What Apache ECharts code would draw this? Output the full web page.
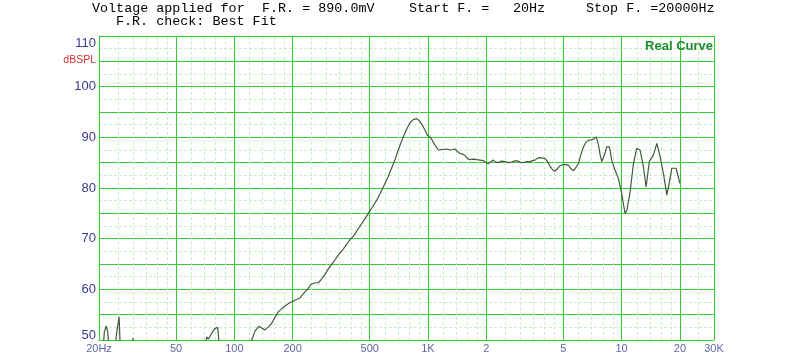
<!DOCTYPE html>
<html>
<head>
<meta charset="utf-8">
<script src="https://cdn.jsdelivr.net/npm/echarts@6/dist/echarts.min.js"></script>
<style>
html,body{margin:0;padding:0;background:#fff;}
#chart{width:800px;height:359px;}
</style>
</head>
<body>
<div id="chart"></div>
<script>
// Frequency response data (Hz, dBSPL)
var freqs = [20, 20.8, 21.3, 21.8, 22.2, 22.7, 23.9, 24.6, 25.4, 25.9, 29.6, 30.0, 30.4,
  70, 72, 73.5, 76, 79, 82, 85, 118, 123, 128, 134, 139, 144, 150, 156, 162, 169, 176, 183, 192,
  202, 210, 218, 228, 241, 248, 256, 264, 272, 282, 294, 308, 325, 345, 366, 380, 396, 404, 416,
  437, 465, 492, 518, 544, 566, 588, 606, 624, 650, 676, 697, 718, 740, 762, 785, 808, 840, 875,
  900, 929, 960, 993, 1025, 1045, 1085, 1131, 1165, 1200, 1250, 1300, 1340, 1380, 1420, 1464,
  1510, 1554, 1600, 1649, 1720, 1786, 1860, 1932, 2000, 2050, 2110, 2175, 2240, 2308, 2400, 2500,
  2600, 2710, 2790, 2875, 2990, 3110, 3240, 3370, 3470, 3575, 3680, 3794, 3910, 4025, 4150, 4270,
  4400, 4530, 4660, 4810, 4950, 5105, 5310, 5450, 5640, 5800, 5980, 6150, 6350, 6530, 6735, 6950,
  7150, 7300, 7380, 7480, 7590, 7750, 7900, 8050, 8200, 8380, 8650, 8890, 9250, 9620, 10020,
  10250, 10420, 10640, 11070, 11510, 11970, 12450, 12960, 13380, 13900, 14580, 15200, 15800,
  16440, 17120, 17800, 18160, 19100, 20000];
var spl = [40, 46, 51.5, 52.8, 51.5, 46, 46, 51, 54.6, 46, 48, 50.4, 48,
  46, 50.6, 50.2, 51.2, 52.2, 52.5, 46, 46, 50, 51.8, 52.7, 52.3, 52, 52.6, 53.3, 54.5, 55.6, 56.2, 56.7, 57.3,
  57.7, 58, 58.3, 59.2, 60.2, 60.9, 61.2, 61.3, 61.3, 62, 63, 64.2, 65.4, 66.8, 68, 68.9, 69.8, 70.1, 70.7,
  72, 73.5, 75, 76.3, 77.6, 78.9, 80.2, 81.3, 82.3, 84, 85.6, 87.1, 88.5, 89.8, 90.9, 92, 92.9, 93.5, 93.7,
  93.3, 92.6, 91.6, 90.4, 90.0, 89.6, 88.5, 87.5, 87.6, 87.6, 87.7, 87.5, 87.6, 87.7, 87.2, 86.8,
  86.7, 86.4, 85.8, 85.6, 85.7, 85.6, 85.5, 85.4, 85.0, 84.8, 85.2, 85.5, 85.1, 85.0, 85.3, 85.2,
  85.0, 85.1, 85.3, 85.4, 85.1, 85.0, 85.2, 85.2, 85.4, 85.5, 85.9, 86.0, 85.9, 85.8, 85.2, 84.3,
  83.6, 83.3, 83.8, 84.4, 84.6, 84.6, 84.5, 83.9, 83.4, 84.0, 84.8, 86.5, 88.1, 89.0, 89.4, 89.5,
  89.6, 89.8, 90.1, 89.4, 88.5, 86.5, 85.2, 85.2, 86.8, 88.1, 88.1, 85.5, 83.5, 81.9, 78.9,
  76.5, 75.0, 75.6, 79.3, 84.8, 87.8, 87.5, 84.2, 80.2, 85.2, 86.5, 88.8, 86.2,
  82.9, 78.6, 81.9, 83.9, 83.9, 80.9];

// X tick labels
var xTickFreqs = [20, 50, 100, 200, 500, 1000, 2000, 5000, 10000, 20000, 30000];
var xTickLabels = ['20Hz', '50', '100', '200', '500', '1K', '2', '5', '10', '20', '30K'];
// Vertical grid lines
var majorGridFreqs = [20, 50, 100, 200, 500, 1000, 2000, 5000, 10000, 20000, 30000];
var minorGridFreqs = [25, 30, 35, 40, 45, 60, 70, 80, 90, 120, 140, 160, 180, 250, 300, 350, 400, 450,
  600, 700, 800, 900, 1200, 1400, 1600, 1800, 2500, 3000, 3500, 4000, 4500, 6000, 7000, 8000, 9000,
  12000, 14000, 16000, 18000, 25000];

var MAJOR = '#33cc33';
var MINOR = '#c8efc8';
var LABEL = '#3a3a8c';
var FONT = 'Arial, "Liberation Sans", sans-serif';
var MONO = '"Liberation Mono", monospace';

var curve = freqs.map(function (f, i) { return [f, spl[i]]; });
var markData = [];
minorGridFreqs.forEach(function (f) {
  markData.push({ xAxis: f, lineStyle: { color: MINOR, width: 1, type: [3, 2] } });
});
majorGridFreqs.forEach(function (f) {
  markData.push({ xAxis: f, lineStyle: { color: MAJOR, width: 1, type: 'solid' } });
});

var chart = echarts.init(document.getElementById('chart'), null, { renderer: 'canvas' });
chart.setOption({
  animation: false,
  backgroundColor: '#fff',
  grid: { left: 99, right: 86, top: 36, bottom: 19 },
  xAxis: {
    type: 'log', logBase: 10, min: 20, max: 30000,
    axisLine: { show: true, lineStyle: { color: MAJOR, width: 1 } },
    axisTick: { show: false },
    axisLabel: { show: false },
    splitLine: { show: false },
    minorSplitLine: { show: false }
  },
  yAxis: {
    type: 'value', min: 50, max: 110, interval: 5,
    axisLine: { show: true, lineStyle: { color: MAJOR, width: 1 } },
    axisTick: { show: false },
    minorTick: { show: false, splitNumber: 2 },
    minorSplitLine: { show: true, lineStyle: { color: MINOR, width: 1, type: [3, 2] } },
    splitLine: { show: true, lineStyle: { color: MAJOR, width: 1 } },
    axisLabel: {
      margin: 3,
      color: LABEL,
      fontFamily: FONT,
      fontSize: 13,
      formatter: function (v) {
        if (v === 110) return '{top|110}';
        if (v === 50) return '{bot|50}';
        if (v % 10 === 0) return String(v);
        if (v === 105) return '{u|dBSPL}';
        return '';
      },
      rich: {
        u: { color: '#cc3333', fontSize: 10.5, fontFamily: FONT, padding: [0, 0, 3, 0] },
        top: { color: LABEL, fontSize: 13, fontFamily: FONT, padding: [15, 0, 0, 0] },
        bot: { color: LABEL, fontSize: 13, fontFamily: FONT, padding: [0, 0, 9, 0] }
      }
    }
  },
  series: [
    {
      type: 'line',
      data: curve,
      symbol: 'none',
      clip: true,
      lineStyle: { color: '#42593f', width: 1.2 },
      z: 5,
      markLine: {
        silent: true,
        symbol: ['none', 'none'],
        label: { show: false },
        animation: false,
        data: markData,
        z: 1
      }
    },
    {
      type: 'scatter',
      data: xTickFreqs.map(function (f, i) { return [f, 50, xTickLabels[i]]; }),
      symbolSize: 0,
      silent: true,
      clip: false,
      label: {
        show: true,
        position: 'bottom',
        distance: 3,
        color: LABEL,
        fontSize: 11,
        fontFamily: FONT,
        formatter: function (p) { return p.data[2]; }
      }
    }
  ],
  graphic: [
    { type: 'text', z: 100, left: 92, top: 2, style: { text: 'Voltage applied for', fontFamily: MONO, fontSize: 13.4, fill: '#000' } },
    { type: 'text', z: 100, left: 262, top: 2, style: { text: 'F.R. = 890.0mV', fontFamily: MONO, fontSize: 13.4, fill: '#000' } },
    { type: 'text', z: 100, left: 409, top: 2, style: { text: 'Start F. =', fontFamily: MONO, fontSize: 13.4, fill: '#000' } },
    { type: 'text', z: 100, left: 513, top: 2, style: { text: '20Hz', fontFamily: MONO, fontSize: 13.4, fill: '#000' } },
    { type: 'text', z: 100, left: 586, top: 2, style: { text: 'Stop F. =20000Hz', fontFamily: MONO, fontSize: 13.4, fill: '#000' } },
    { type: 'text', z: 100, left: 116, top: 15, style: { text: 'F.R. check: Best Fit', fontFamily: MONO, fontSize: 13.4, fill: '#000' } },
    { type: 'text', z: 100, right: 87, top: 40, style: { text: 'Real Curve', fontFamily: FONT, fontWeight: 'bold', fontSize: 13, fill: '#1a8c2a' } }
  ]
});
</script>
</body>
</html>
